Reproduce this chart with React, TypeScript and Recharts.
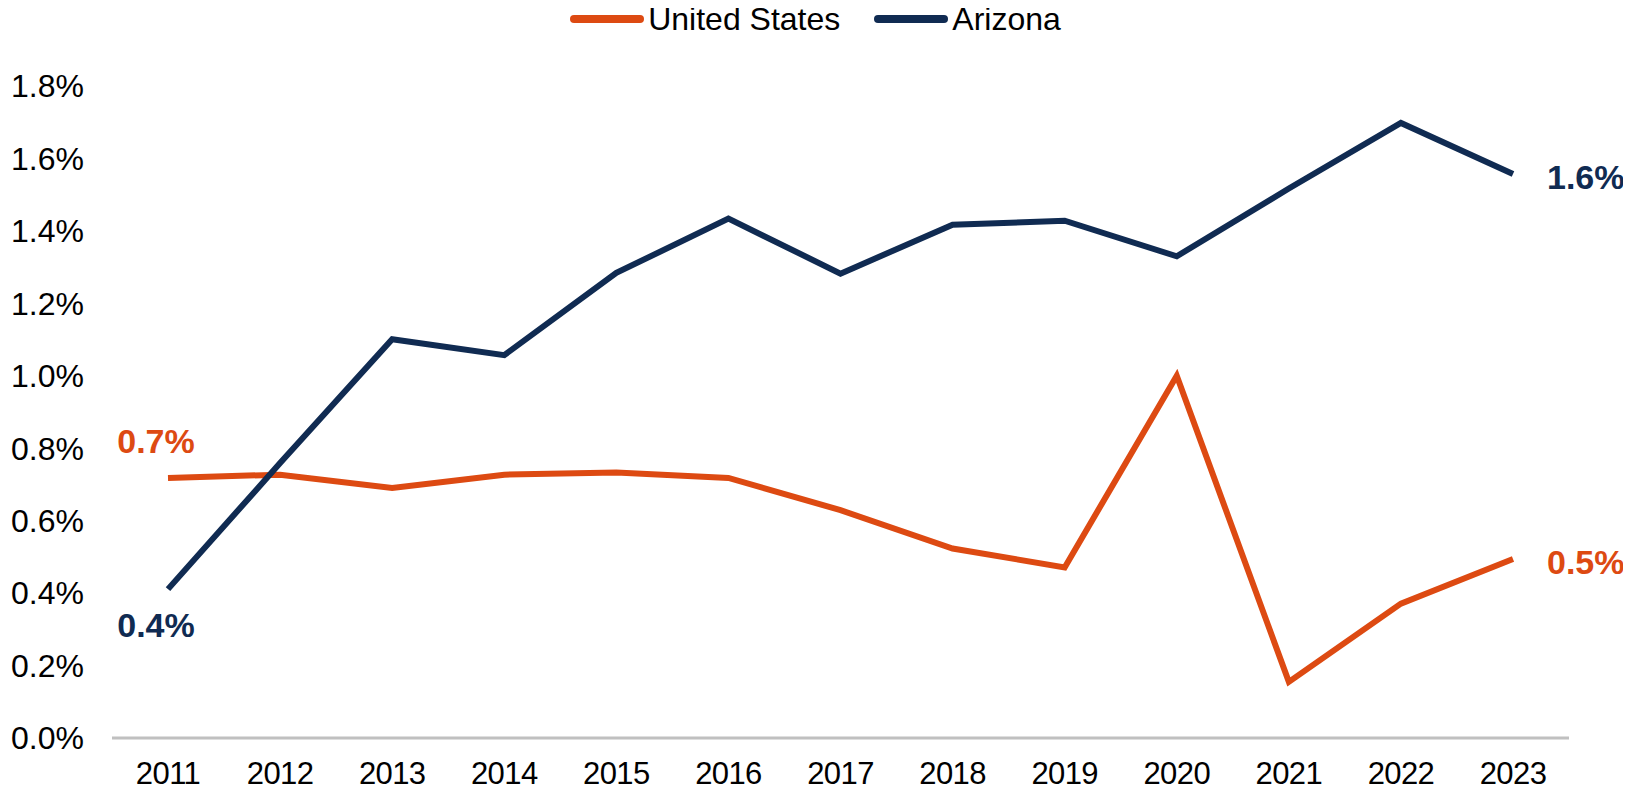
import { LineChart, Line, XAxis, YAxis, Legend, LabelList } from 'recharts';

const YEARS = ['2011', '2012', '2013', '2014', '2015', '2016', '2017', '2018', '2019', '2020', '2021', '2022', '2023'];
const US_VALUES = [0.718, 0.727, 0.69, 0.727, 0.733, 0.718, 0.629, 0.523, 0.471, 1.0, 0.155, 0.371, 0.494];
const AZ_VALUES = [0.411, 0.759, 1.101, 1.057, 1.284, 1.434, 1.282, 1.417, 1.428, 1.33, 1.517, 1.698, 1.557];
const Y_TICKS = [0, 0.2, 0.4, 0.6, 0.8, 1.0, 1.2, 1.4, 1.6, 1.8];

const US_COLOR = '#DD4A12';
const AZ_COLOR = '#102B52';
const FONT = '"Liberation Sans", Arial, sans-serif';
const LEGEND_H = 36;

const data = YEARS.map((year, i) => ({ year, us: US_VALUES[i], az: AZ_VALUES[i] }));
const last = YEARS.length - 1;

const endLabel = (color: string, firstPos: 'above' | 'below') => (props: any) => {
  const { x, y, value, index } = props;
  if (index !== 0 && index !== last) return null;
  const text = `${Number(value).toFixed(1)}%`;
  let tx = x + 34;
  let ty = y + 3;
  let anchor = 'start';
  if (index === 0) {
    tx = x - 12;
    ty = firstPos === 'above' ? y - 37 : y + 36;
    anchor = 'middle';
  }
  return (
    <text
      x={tx}
      y={ty}
      fill={color}
      textAnchor={anchor}
      dominantBaseline="central"
      fontFamily={FONT}
      fontWeight="bold"
      fontSize={34}
    >
      {text}
    </text>
  );
};

const renderLegend = () => (
  <div
    style={{
      display: 'flex',
      justifyContent: 'center',
      alignItems: 'center',
      height: LEGEND_H,
      fontFamily: FONT,
      fontSize: 32,
      lineHeight: 1,
      color: '#000',
    }}
  >
    {[
      { name: 'United States', color: US_COLOR },
      { name: 'Arizona', color: AZ_COLOR },
    ].map((item) => (
      <div key={item.name} style={{ display: 'flex', alignItems: 'center', margin: '0 17px' }}>
        <div style={{ width: 74, height: 8, borderRadius: 4, background: item.color, marginRight: 4 }} />
        <span>{item.name}</span>
      </div>
    ))}
  </div>
);

export default function App() {
  return (
    <div style={{ margin: '-8px 0 0 -8px' }}>
      <LineChart
        width={1631}
        height={801}
        data={data}
        margin={{ top: 86 - LEGEND_H, right: 62, bottom: 13, left: 0 }}
      >
        <XAxis
          dataKey="year"
          padding={{ left: 56, right: 56 }}
          stroke="#C0C0C0"
          strokeWidth={3}
          tickLine={false}
          tickSize={0}
          tickMargin={24}
          height={50}
          tick={{ fill: '#000', fontFamily: FONT, fontSize: 31, letterSpacing: -0.6 }}
        />
        <YAxis
          domain={[0, 1.8]}
          ticks={Y_TICKS}
          axisLine={false}
          tickLine={false}
          tickSize={0}
          tickMargin={28}
          width={112}
          tickFormatter={(v: number) => `${v.toFixed(1)}%`}
          tick={{ fill: '#000', fontFamily: FONT, fontSize: 32 }}
        />
        <Legend
          verticalAlign="top"
          height={LEGEND_H}
          content={renderLegend}
          wrapperStyle={{ top: 1, left: 0, width: 1631 }}
        />
        <Line
          dataKey="us"
          name="United States"
          stroke={US_COLOR}
          strokeWidth={6}
          dot={false}
          activeDot={false}
          type="linear"
          isAnimationActive={false}
        >
          <LabelList dataKey="us" content={endLabel(US_COLOR, 'above')} />
        </Line>
        <Line
          dataKey="az"
          name="Arizona"
          stroke={AZ_COLOR}
          strokeWidth={6}
          dot={false}
          activeDot={false}
          type="linear"
          isAnimationActive={false}
        >
          <LabelList dataKey="az" content={endLabel(AZ_COLOR, 'below')} />
        </Line>
      </LineChart>
    </div>
  );
}
